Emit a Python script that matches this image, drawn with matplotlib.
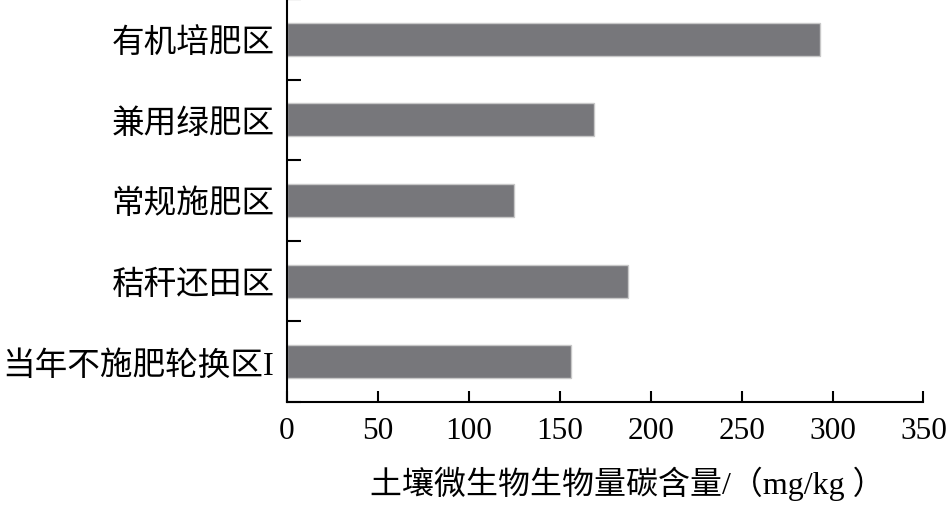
import matplotlib
matplotlib.use("Agg")
import matplotlib.pyplot as plt
import numpy as np

# data
categories = ["有机培肥区", "兼用绿肥区", "常规施肥区", "秸秆还田区", "当年不施肥轮换区I"]
carbon = [293, 169, 125, 187.5, 156]
x_ticks = [0, 50, 100, 150, 200, 250, 300, 350]

plt.rcParams["font.family"] = ["Liberation Serif", "Noto Sans CJK SC"]

fig = plt.figure(figsize=(9.5, 5.06), dpi=100)
ax = fig.add_axes([0.3021, 0.2036, 0.670, 0.7964])

y = np.arange(len(categories))
ax.barh(y, carbon, height=0.41, color="#77777b", edgecolor="#c8c8c8", linewidth=1.0)

ax.set_xlim(0, 350)
ax.set_ylim(len(categories) - 0.5, -0.5)
ax.set_xticks(x_ticks)
ax.set_xticklabels([str(v) for v in x_ticks])
ax.set_yticks(y)
ax.set_yticklabels(categories)
ax.set_yticks(np.arange(len(categories) + 1) - 0.5, minor=True)

for side in ["top", "right"]:
    ax.spines[side].set_visible(False)
for side in ["left", "bottom"]:
    ax.spines[side].set_linewidth(1.5)

ax.tick_params(axis="x", direction="in", length=8, width=1.5, labelsize=22.5, pad=10)
ax.tick_params(axis="y", which="major", length=0, labelsize=23.5, pad=9)
ax.tick_params(axis="y", which="minor", direction="in", length=10, width=1.5)

ax.set_xlabel("土壤微生物生物量碳含量/（mg/kg ）", fontsize=23)
ax.xaxis.set_label_coords(0.535, -0.158)

plt.savefig("out.png", dpi=100)
